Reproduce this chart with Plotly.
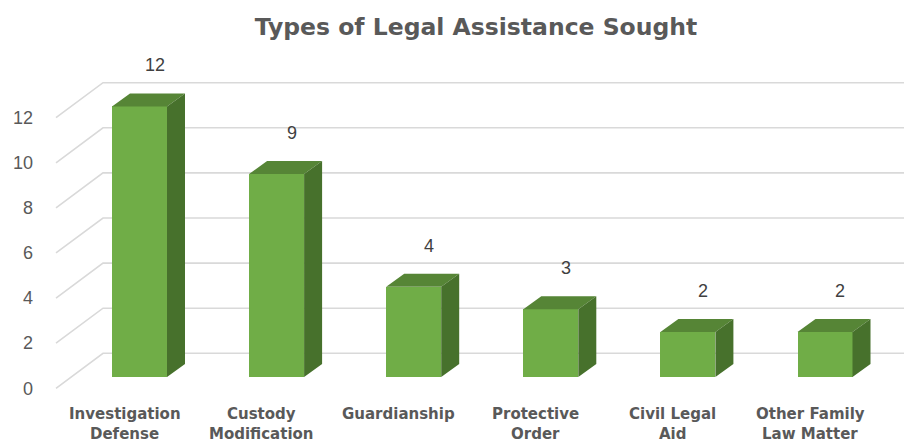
import plotly.graph_objects as go

# ---- data ----
categories = ["Investigation Defense", "Custody Modification", "Guardianship",
              "Protective Order", "Civil Legal Aid", "Other Family Law Matter"]
tick_labels = ["Investigation<br>Defense", "Custody<br>Modification", "Guardianship",
               "Protective<br>Order", "Civil Legal<br>Aid", "Other Family<br>Law Matter"]
values = [12, 9, 4, 3, 2, 2]
y_ticks = [0, 2, 4, 6, 8, 10, 12]
title = "Types of Legal Assistance Sought"

# ---- geometry (page pixels -> data units) ----
OFF = 8                 # page body margin
W, H = 912 - OFF, 442 - OFF
L = 40 - OFF            # plot-area left edge in figure pixels
PX_X = 137.1            # pixels per category
PX_Y = 22.55            # pixels per value unit
BASE = 377 - OFF        # pixel row of value 0 (bar fronts)
CX0 = 139.5 - OFF       # pixel column of first bar centre
X0 = (L - CX0) / PX_X
X1 = X0 + (W - L) / PX_X
Y_TOP = BASE / PX_Y
Y_BOT = (BASE - H) / PX_Y
BW = 55 / PX_X          # bar width
DX = 18 / PX_X          # depth offset x
DY = 13 / PX_Y          # depth offset y

FRONT = "#70AD47"
TOP = "#568536"
SIDE = "#47712C"
GRID = "#D9D9D9"
TXT = "#595959"

xs = list(range(len(values)))

fig = go.Figure()

# front faces
fig.add_trace(go.Bar(x=xs, y=values, width=BW, marker=dict(color=FRONT, line=dict(width=0)),
                     hoverinfo="skip", showlegend=False))

# top and side faces
tx, ty, sx, sy = [], [], [], []
for i, v in zip(xs, values):
    l, r = i - BW / 2, i + BW / 2
    tx += [l, r, r + DX, l + DX, l, None]
    ty += [v, v, v + DY, v + DY, v, None]
    sx += [r, r + DX, r + DX, r, r, None]
    sy += [0, DY, v + DY, v, 0, None]
fig.add_trace(go.Scatter(x=tx, y=ty, mode="lines", fill="toself", fillcolor=TOP,
                         line=dict(width=0, color=TOP), hoverinfo="skip", showlegend=False))
fig.add_trace(go.Scatter(x=sx, y=sy, mode="lines", fill="toself", fillcolor=SIDE,
                         line=dict(width=0, color=SIDE), hoverinfo="skip", showlegend=False))

# dummy trace to anchor the tick-label axis
fig.add_trace(go.Scatter(x=[X0] * len(y_ticks), y=y_ticks, yaxis="y2", mode="markers",
                         marker=dict(opacity=0), hoverinfo="skip", showlegend=False))

# gridlines on back wall with perspective floor diagonals
xa = X0 + (56 - 40) / PX_X
xb = X0 + (103 - 40) / PX_X
for g in y_ticks:
    fig.add_shape(type="path", xref="x", yref="y", layer="below",
                  path=f"M {xa},{g - 0.5} L {xb},{g + 1.05} L {X1},{g + 1.05}",
                  line=dict(color=GRID, width=1.6))

# data labels
for i, v in zip(xs, values):
    fig.add_annotation(x=i + 15 / PX_X, y=v + DY + 28 / PX_Y, text=str(v), showarrow=False,
                       xanchor="center", yanchor="middle",
                       font=dict(family="Liberation Sans, Arial", size=18, color="#404040"))

# category labels
for i, lab in zip(xs, tick_labels):
    for k, line in enumerate(lab.split("<br>")):
        fig.add_annotation(x=i - 15 / PX_X, y=(377 - 414 - 20 * k) / PX_Y, text=f"<b>{line}</b>",
                           showarrow=False, xanchor="center", yanchor="middle",
                           font=dict(family="DejaVu Sans", size=15, color=TXT))

fig.update_layout(
    width=W, height=H,
    margin=dict(l=L, r=0, t=0, b=0),
    paper_bgcolor="white", plot_bgcolor="white",
    title=dict(text=f"<b>{title}</b>", x=0.5, xref="paper", y=1 - (27 - OFF) / H, yref="container",
               xanchor="center", yanchor="middle",
               font=dict(family="DejaVu Sans", size=23.5, color=TXT)),
    xaxis=dict(range=[X0, X1], showgrid=False, zeroline=False, showticklabels=False,
               ticks="", showline=False, fixedrange=True),
    yaxis=dict(range=[Y_BOT, Y_TOP], showgrid=False, zeroline=False, showticklabels=False,
               ticks="", showline=False, fixedrange=True),
    yaxis2=dict(range=[Y_BOT + 0.5, Y_TOP + 0.5], overlaying="y", side="left",
                tickvals=y_ticks, ticktext=[str(t) for t in y_ticks],
                showgrid=False, zeroline=False, ticks="", showline=False, automargin=False,
                ticklabelstandoff=6,
                tickfont=dict(family="Liberation Sans, Arial", size=18, color=TXT),
                fixedrange=True),
    showlegend=False,
    bargap=0,
)

fig.write_html("out.html")
